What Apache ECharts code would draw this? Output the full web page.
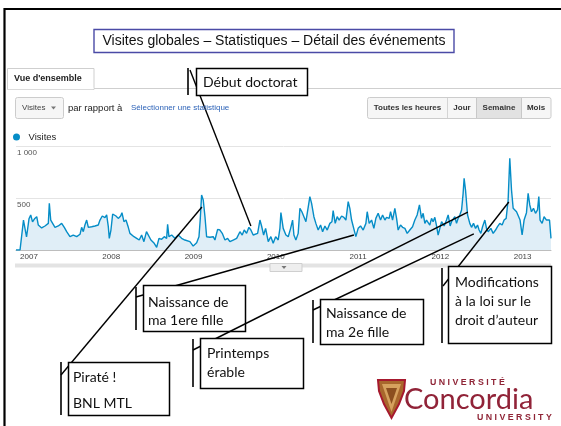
<!DOCTYPE html>
<html><head><meta charset="utf-8">
<script src="https://cdn.jsdelivr.net/npm/echarts@6/dist/echarts.min.js"></script>
<style>html,body{margin:0;padding:0;background:#fff}#c{width:561px;height:426px}</style>
</head><body><div id="c"></div>
<script>
// ---- data (weekly visits, dates as decimal years) ----
const weekDates = [2006.842,2006.891,2006.933,2006.970,2007.000,2007.021,2007.043,2007.067,2007.094,2007.113,2007.154,2007.194,2007.215,2007.235,2007.247,2007.264,2007.288,2007.316,2007.356,2007.397,2007.429,2007.458,2007.498,2007.538,2007.580,2007.620,2007.640,2007.660,2007.680,2007.701,2007.721,2007.762,2007.802,2007.842,2007.863,2007.891,2007.923,2007.944,2007.964,2007.976,2007.996,2008.017,2008.057,2008.085,2008.114,2008.130,2008.154,2008.179,2008.207,2008.227,2008.248,2008.276,2008.309,2008.340,2008.369,2008.397,2008.428,2008.452,2008.482,2008.522,2008.552,2008.580,2008.612,2008.644,2008.673,2008.685,2008.701,2008.734,2008.774,2008.814,2008.855,2008.895,2008.956,2008.996,2009.038,2009.066,2009.081,2009.098,2009.118,2009.139,2009.159,2009.199,2009.239,2009.260,2009.293,2009.321,2009.349,2009.382,2009.414,2009.442,2009.482,2009.524,2009.564,2009.592,2009.616,2009.645,2009.673,2009.697,2009.725,2009.746,2009.779,2009.807,2009.827,2009.852,2009.876,2009.908,2009.940,2009.968,2009.998,2010.029,2010.050,2010.062,2010.090,2010.123,2010.151,2010.180,2010.204,2010.220,2010.244,2010.272,2010.293,2010.317,2010.341,2010.366,2010.382,2010.414,2010.435,2010.463,2010.487,2010.515,2010.544,2010.569,2010.597,2010.625,2010.657,2010.682,2010.697,2010.722,2010.746,2010.770,2010.800,2010.827,2010.852,2010.880,2010.900,2010.921,2010.940,2010.973,2011.001,2011.030,2011.062,2011.095,2011.111,2011.135,2011.164,2011.192,2011.216,2011.244,2011.273,2011.298,2011.326,2011.346,2011.378,2011.395,2011.419,2011.447,2011.468,2011.487,2011.516,2011.541,2011.569,2011.597,2011.629,2011.662,2011.690,2011.718,2011.746,2011.771,2011.791,2011.812,2011.832,2011.852,2011.872,2011.893,2011.912,2011.933,2011.954,2011.973,2011.994,2012.015,2012.046,2012.075,2012.095,2012.119,2012.136,2012.156,2012.176,2012.197,2012.216,2012.237,2012.258,2012.277,2012.289,2012.306,2012.331,2012.358,2012.379,2012.403,2012.428,2012.452,2012.471,2012.492,2012.513,2012.541,2012.561,2012.581,2012.614,2012.642,2012.671,2012.695,2012.723,2012.751,2012.775,2012.800,2012.824,2012.844,2012.865,2012.885,2012.905,2012.926,2012.945,2012.969,2012.994,2013.018,2013.047,2013.067,2013.087,2013.108,2013.132,2013.157,2013.181,2013.197,2013.212,2013.237,2013.261,2013.290,2013.310,2013.327,2013.345];
const visits = [0,0,288,125,300,337,270,300,320,240,212,231,218,256,449,288,272,218,231,256,218,176,128,144,128,151,218,176,240,288,218,224,231,240,288,327,311,337,224,112,192,346,327,304,327,359,272,288,218,160,176,128,112,96,144,80,176,192,96,64,26,112,103,128,112,247,128,144,112,144,112,96,80,38,70,128,288,529,481,320,128,122,128,96,199,192,160,96,112,80,96,112,176,144,192,160,218,192,144,128,160,288,231,144,208,80,128,64,128,96,208,359,208,144,128,208,288,144,96,160,401,368,385,272,353,513,449,320,256,192,240,176,231,192,256,272,378,256,320,288,327,314,288,465,401,288,295,128,208,231,192,256,368,256,288,208,304,353,288,337,288,314,304,368,288,401,304,192,240,218,208,160,192,224,288,337,433,304,353,256,288,295,240,304,272,314,231,144,208,272,231,288,337,231,272,288,320,256,304,337,385,545,689,577,337,256,218,256,208,240,192,160,224,288,208,176,208,160,192,224,256,240,288,304,481,882,577,401,417,368,385,288,144,288,359,545,433,368,401,353,385,513,288,256,320,288,272,288,112];
const yearTicks = [2007, 2008, 2009, 2010, 2011, 2012, 2013];
const yTickValues = [0, 500, 1000];
const yTickLabels = ['', '500', '1 000'];
// annotated events: label lines, date (decimal year), visits at the pointed spot
const eventLabels = [['Début doctorat'], ['Piraté !', 'BNL MTL'], ['Naissance de', 'ma 1ere fille'], ['Printemps', 'érable'], ['Naissance de', 'ma 2e fille'], ['Modifications', 'à la loi sur le', 'droit d\u2019auteur']];
const eventDates = [2009.697, 2009.102, 2010.949, 2012.334, 2012.407, 2012.832];
const eventValues = [231, 413, 144, 365, 154, 462];

// ---- layout of callout boxes (pixels) ----
const boxLayout = [
  {x:196, y:68, w:111, h:27, bar:[188,68,95], start:[190,70], tx:203, ty:[82]},
  {x:68, y:362, w:101, h:53, bar:[61,362,415], start:[61,375], tx:73, ty:[377,403]},
  {x:143, y:285, w:102, h:46, bar:[136,287,330], start:[136,297], tx:148, ty:[302,320]},
  {x:200, y:338, w:103, h:50, bar:[193,339,387], start:[193,350], tx:207, ty:[353,372]},
  {x:320, y:299, w:103, h:45, bar:[313,300,343], start:[313,310], tx:326, ty:[313,332]},
  {x:448, y:266, w:103, h:77, bar:[442,268,343], start:[443,286], tx:455, ty:[282,301,320]}
];

const UI = '"Liberation Sans", Arial, sans-serif';
const NOTE = 'Lato, "Open Sans", sans-serif';
const chart = echarts.init(document.getElementById('c'));
chart.setOption({
  animation: false,
  grid: {left: 16, right: 10, top: 146, bottom: 176},
  legend: {left: 13, top: 132, padding: 0, icon: 'circle', itemWidth: 14, itemHeight: 7,
    textStyle: {fontFamily: UI, fontSize: 9.5, color: '#222'}, data: ['Visites']},
  xAxis: {type: 'value', min: 2006.842, max: 2013.345,
    axisLine: {lineStyle: {color: '#bdbdbd'}}, axisTick: {show: false}, splitLine: {show: false},
    axisLabel: {customValues: yearTicks, formatter: v => String(Math.round(v)), fontFamily: UI, fontSize: 8, color: '#444', margin: 3}},
  yAxis: {type: 'value', min: 0, max: 1000, interval: 500,
    axisLine: {show: false}, axisTick: {show: false},
    splitLine: {lineStyle: {color: '#e4e4e4'}},
    axisLabel: {inside: true, margin: 1, verticalAlign: 'top', padding: [3, 0, 0, 0],
      formatter: v => { const i = yTickValues.indexOf(v); return i < 0 ? '' : yTickLabels[i]; },
      fontFamily: UI, fontSize: 8, color: '#555'}},
  series: [{name: 'Visites', type: 'line', data: weekDates.map((d, i) => [d, visits[i]]),
    showSymbol: false, lineStyle: {color: '#058dc7', width: 1.4}, itemStyle: {color: '#058dc7'},
    areaStyle: {color: '#e0eef7', opacity: 1}}]
});

const g = [];
const Z = 100;
function ln(x1, y1, x2, y2, w, c) { g.push({type: 'line', z: Z, silent: true, shape: {x1, y1, x2, y2}, style: {stroke: c || '#000', lineWidth: w || 1}}); }
function rc(x, y, w, h, fill, stroke, lw, r) { g.push({type: 'rect', z: Z, silent: true, shape: {x, y, width: w, height: h, r: r || 0}, style: {fill: fill || 'none', stroke: stroke || 'none', lineWidth: lw || 1}}); }
function tx(x, y, t, font, fill, align) { g.push({type: 'text', z: Z + 1, silent: true, x, y, style: {text: t, font, fill: fill || '#000', textAlign: align || 'left', textVerticalAlign: 'middle', align: align || 'left', verticalAlign: 'middle'}}); }

// slide frame
ln(4, 9, 561, 9, 2.2, '#000');
ln(4.5, 8, 4.5, 426, 2.2, '#000');
// title box
rc(94, 29.5, 360, 23, '#fff', '#4a4aa6', 1.4);
tx(274, 41.5, 'Visites globales \u2013 Statistiques \u2013 Détail des événements', '14px ' + UI, '#111', 'center');
// tab
ln(94, 88.5, 561, 88.5, 1, '#cfcfcf');
rc(7.5, 68.5, 86.5, 21, '#fff', '#cfcfcf', 1);
ln(8, 88.5, 93.5, 88.5, 1.5, '#fff');
tx(14, 79, 'Vue d\'ensemble', 'bold 9px ' + UI, '#222');
// dropdown
rc(15.5, 97.5, 48, 21, '#f6f6f6', '#cccccc', 1, 2);
tx(22, 108, 'Visites', '8px ' + UI, '#444');
g.push({type: 'polygon', z: Z, silent: true, shape: {points: [[51, 106.5], [56, 106.5], [53.5, 109.5]]}, style: {fill: '#777'}});
tx(68, 108, 'par rapport à', '9.5px ' + UI, '#222');
tx(131, 108, 'Sélectionner une statistique', '8px ' + UI, '#2d63b8');
// period buttons
rc(367.5, 97.5, 183.5, 21, '#f6f6f6', '#cccccc', 1, 2);
rc(476, 98, 45, 20, '#e2e2e2');
ln(447.5, 98, 447.5, 118, 1, '#d4d4d4');
ln(476.5, 98, 476.5, 118, 1, '#c8c8c8');
ln(521.5, 98, 521.5, 118, 1, '#c8c8c8');
tx(407.5, 108, 'Toutes les heures', 'bold 8px ' + UI, '#333', 'center');
tx(462, 108, 'Jour', 'bold 8px ' + UI, '#333', 'center');
tx(499, 108, 'Semaine', 'bold 8px ' + UI, '#333', 'center');
tx(536, 108, 'Mois', 'bold 8px ' + UI, '#333', 'center');
// scroll strip under the chart
rc(15, 263.5, 536, 4, '#e3e3e3');
rc(270, 263.5, 32, 8, '#eeeeee', '#cfcfcf', 1);
g.push({type: 'polygon', z: Z, silent: true, shape: {points: [[281.5, 266], [286.5, 266], [284, 269]]}, style: {fill: '#777'}});

// callouts
boxLayout.forEach((b, i) => {
  const p = chart.convertToPixel({gridIndex: 0}, [eventDates[i], eventValues[i]]);
  ln(b.start[0], b.start[1], p[0], p[1], 1.4, '#000');
  ln(b.bar[0], b.bar[1], b.bar[0], b.bar[2], 1.6, '#000');
  rc(b.x + 0.5, b.y + 0.5, b.w, b.h, '#fff', '#000', 1.5);
  eventLabels[i].forEach((t, k) => tx(b.tx, b.ty[k], t, '14px ' + NOTE, '#111'));
});

// Concordia logo
g.push({type: 'polygon', z: Z, silent: true, shape: {points: [[378, 380], [405, 380], [404, 391], [399, 404], [391.5, 418], [384, 404], [379, 391]]}, style: {fill: '#a8672c', stroke: '#a6192e', lineWidth: 2}});
g.push({type: 'polygon', z: Z, silent: true, shape: {points: [[382, 384], [401, 384], [391.5, 412]]}, style: {fill: '#d6a15e'}});
g.push({type: 'polygon', z: Z, silent: true, shape: {points: [[386, 388], [397, 388], [391.5, 404]]}, style: {fill: '#8c4f1f'}});
tx(430, 383, 'U N I V E R S I T É', 'bold 8.8px ' + UI, '#8f2436');
tx(404, 400, 'Concordia', '29px ' + NOTE, '#912338');
tx(477, 417.5, 'U N I V E R S I T Y', 'bold 8.8px ' + UI, '#8f2436');

chart.setOption({graphic: g});
</script></body></html>
